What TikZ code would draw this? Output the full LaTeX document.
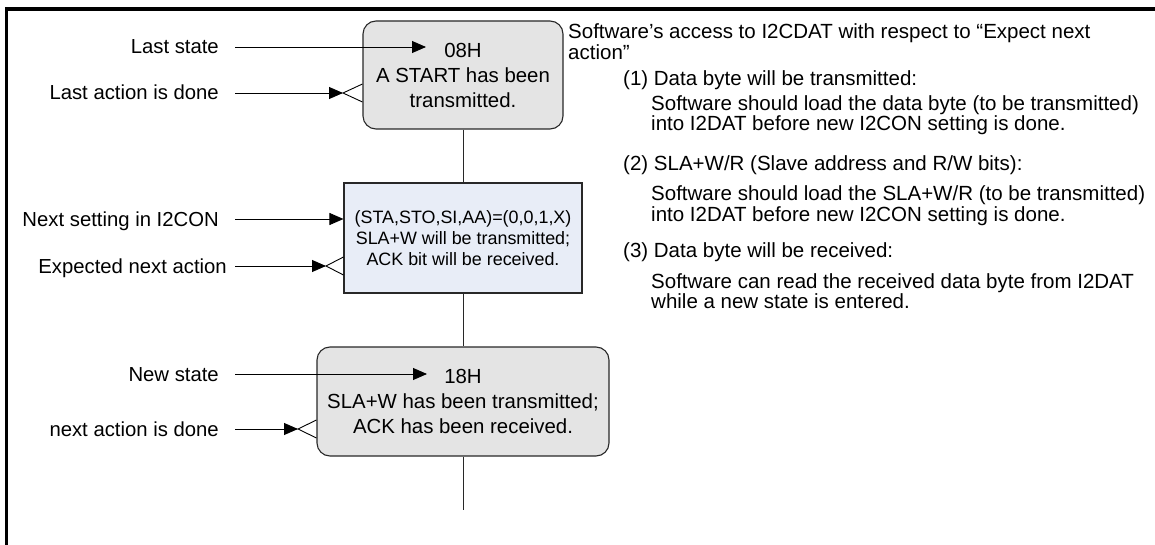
\documentclass[tikz,border=0pt]{standalone}
\usepackage{fontspec}
\setmainfont{Liberation Sans}
\usetikzlibrary{arrows.meta,calc}
\definecolor{stgray}{RGB}{228,228,228}
\definecolor{setblue}{RGB}{232,237,247}
\definecolor{linec}{RGB}{40,40,40}
\begin{document}
\begin{tikzpicture}[x=1pt,y=-1pt,
  statebox/.style={draw=linec, line width=1.1pt, fill=stgray, rounded corners=13pt, inner sep=0pt, align=center, font=\fontsize{20.4}{25}\selectfont},
  setbox/.style={draw=linec, line width=1.1pt, fill=setblue, inner sep=0pt, align=center, font=\fontsize{17.9}{21}\selectfont},
  lbl/.style={anchor=base east, inner sep=0pt, font=\fontsize{20.3}{24}\selectfont},
  rtxt/.style={anchor=base west, inner sep=0pt, font=\fontsize{20.5}{21}\selectfont},
  arr/.style={draw=black, line width=0.9pt, -{Triangle[length=14pt,width=12pt]}},
  foot/.style={draw=black, line width=0.9pt},
  vline/.style={draw=linec, line width=1pt}]
\useasboundingbox (0,0) rectangle (1155,545);
\fill[white] (0,0) rectangle (1155,545);
% frame
\draw[line width=3.6pt, line join=miter] (6.5,545) -- (6.5,9) -- (1155,9);
% state boxes
\node[statebox, minimum width=200pt, minimum height=108pt] (s1) at (463,75) {08H\\A START has been\\transmitted.};
\node[setbox, minimum width=238pt, minimum height=110pt] (s2) at (463,238) {(STA,STO,SI,AA)=(0,0,1,X)\\SLA+W will be transmitted;\\ACK bit will be received.};
\node[statebox, minimum width=292pt, minimum height=109pt] (s3) at (463,401.5) {18H\\SLA+W has been transmitted;\\ACK has been received.};
\coordinate (vend) at (463,510);
\draw[vline] (s1.south) -- (s2.north);
\draw[vline] (s2.south) -- (s3.north);
\draw[vline] (s3.south) -- (vend);
% left labels
\node[lbl] (l1) at (219,54) {Last state};
\node[lbl] (l2) at (219,100) {Last action is done};
\node[lbl] (l3) at (219,226) {Next setting in I2CON};
\node[lbl] (l4) at (227,273) {Expected next action};
\node[lbl] (l5) at (219,381) {New state};
\node[lbl] (l6) at (219,436) {next action is done};
% connector coordinates
\coordinate (a1s) at (235,47);  \coordinate (a1t) at (426,47);
\coordinate (a2s) at (235,93);  \coordinate (a2t) at (343,93);
\coordinate (a3s) at (235,219);
\coordinate (a4s) at (235,266); \coordinate (a4t) at (326,266);
\coordinate (a5s) at (235,374); \coordinate (a5t) at (427,374);
\coordinate (a6s) at (235,429); \coordinate (a6t) at (298,429);
\draw[arr] (a1s) -- (a1t);
\draw[arr] (a2s) -- (a2t);
\draw[foot] ($(s1.west|-a2t)+(0,-9)$) -- (a2t) -- ($(s1.west|-a2t)+(0,9)$);
\draw[arr] (a3s) -- (s2.west|-a3s);
\draw[arr] (a4s) -- (a4t);
\draw[foot] ($(s2.west|-a4t)+(0,-9)$) -- (a4t) -- ($(s2.west|-a4t)+(0,9)$);
\draw[arr] (a5s) -- (a5t);
\draw[arr] (a6s) -- (a6t);
\draw[foot] ($(s3.west|-a6t)+(0,-9)$) -- (a6t) -- ($(s3.west|-a6t)+(0,9)$);
% right text
\node[rtxt] (r1) at (568,39) {Software’s access to I2CDAT with respect to “Expect next};
\node[rtxt] (r2) at (568,60) {action”};
\node[rtxt] (r3) at (623,86) {(1) Data byte will be transmitted:};
\node[rtxt] (r4) at (651,111) {Software should load the data byte (to be transmitted)};
\node[rtxt] (r5) at (651,131) {into I2DAT before new I2CON setting is done.};
\node[rtxt] (r6) at (623,171) {(2) SLA+W/R (Slave address and R/W bits):};
\node[rtxt] (r7) at (651,201) {Software should load the SLA+W/R (to be transmitted)};
\node[rtxt] (r8) at (651,222) {into I2DAT before new I2CON setting is done.};
\node[rtxt] (r9) at (623,257) {(3) Data byte will be received:};
\node[rtxt] (r10) at (651,288) {Software can read the received data byte from I2DAT};
\node[rtxt] (r11) at (651,308) {while a new state is entered.};
\end{tikzpicture}
\end{document}
